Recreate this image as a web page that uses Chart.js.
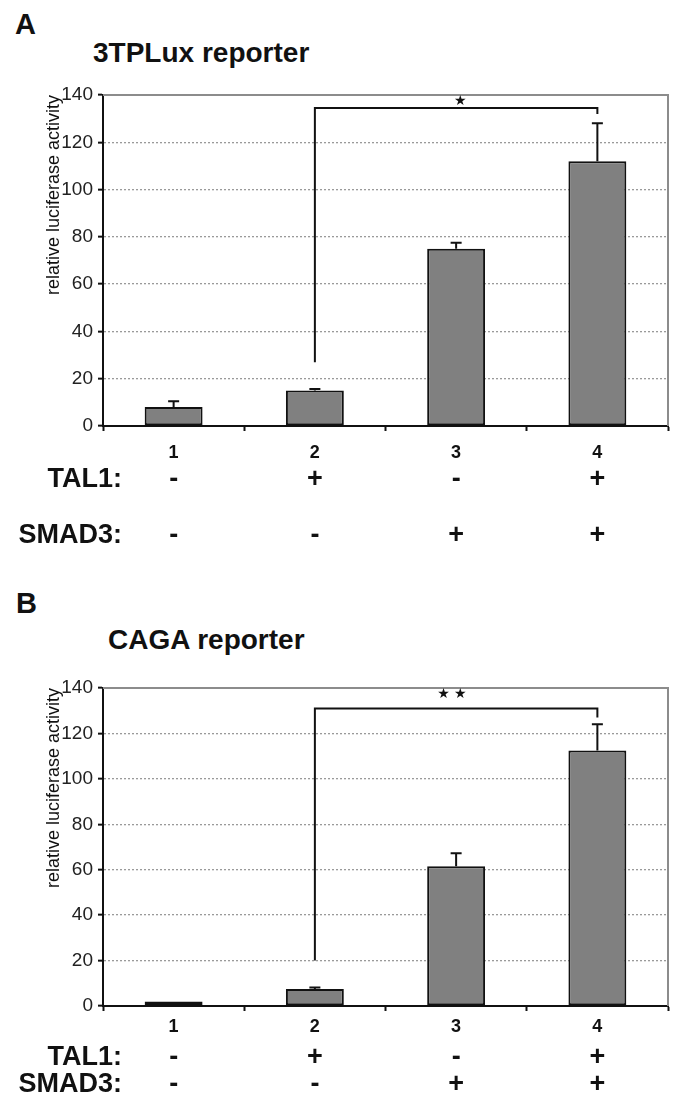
<!DOCTYPE html>
<html>
<head>
<meta charset="utf-8">
<script src="https://cdn.jsdelivr.net/npm/chart.js@4.4.0/dist/chart.umd.min.js"></script>
<style>
  html, body { margin: 0; padding: 0; background: #fff; }
  body { width: 676px; height: 1098px; position: relative; overflow: hidden; font-family: "Liberation Sans", Arial, sans-serif; }
  .lbl { position: absolute; font-weight: bold; line-height: 1; color: #111; white-space: nowrap; }
  canvas { position: absolute; left: 0; }
</style>
</head>
<body>
<div class="lbl" style="left:15px;top:10px;font-size:29px">A</div>
<div class="lbl" style="left:93px;top:39px;font-size:28px">3TPLux reporter</div>
<canvas id="luxChart" width="676" height="500" style="top:70px"></canvas>
<div class="lbl" style="left:16px;top:589px;font-size:29px">B</div>
<div class="lbl" style="left:108px;top:626px;font-size:28px">CAGA reporter</div>
<canvas id="cagaChart" width="676" height="438" style="top:660px"></canvas>
<script>
// Shared categories / conditions
const groups = ['1', '2', '3', '4'];
const tal1 = ['-', '+', '-', '+'];
const smad3 = ['-', '-', '+', '+'];

// 3TPLux reporter (mean, upper error)
const luxMean = [8, 15, 75, 112];
const luxErr = [2.5, 0.6, 2.5, 16];

// CAGA reporter (mean, upper error)
const cagaMean = [2, 7.5, 61.5, 112.5];
const cagaErr = [0, 0.6, 5.8, 11.5];

const yMax = 140;
const yStep = 20;

// significance bracket: [from bar, to bar, left foot, top, right foot]
const luxBracket = [1, 3, 27, 134.5, 132];
const cagaBracket = [1, 3, 20, 131, 127];
// star positions (category units) and height
const luxStars = [2.03];
const cagaStars = [1.91, 2.03];
const starLevel = 137.3;

const extras = {
  id: 'extras',
  afterDraw(chart, args, o) {
    const ctx = chart.ctx, x = chart.scales.x, y = chart.scales.y;
    const area = chart.chartArea;
    ctx.save();
    // gray frame at top and right
    ctx.strokeStyle = '#8c8c8c';
    ctx.lineWidth = 2;
    ctx.beginPath();
    ctx.moveTo(area.left, area.top);
    ctx.lineTo(area.right, area.top);
    ctx.lineTo(area.right, area.bottom);
    ctx.stroke();

    // error bars (upper only)
    ctx.strokeStyle = '#111';
    ctx.lineWidth = 2;
    o.mean.forEach((m, i) => {
      if (!o.err[i]) return;
      const px = x.getPixelForValue(i);
      const y0 = y.getPixelForValue(m), y1 = y.getPixelForValue(m + o.err[i]);
      ctx.beginPath();
      ctx.moveTo(px, y0); ctx.lineTo(px, y1);
      ctx.moveTo(px - 5.5, y1); ctx.lineTo(px + 5.5, y1);
      ctx.stroke();
    });

    // bracket
    const b = o.bracket;
    const bx0 = x.getPixelForValue(b[0]), bx1 = x.getPixelForValue(b[1]);
    ctx.beginPath();
    ctx.moveTo(bx0, y.getPixelForValue(b[2]));
    ctx.lineTo(bx0, y.getPixelForValue(b[3]));
    ctx.lineTo(bx1, y.getPixelForValue(b[3]));
    ctx.lineTo(bx1, y.getPixelForValue(b[4]));
    ctx.stroke();

    // stars
    ctx.fillStyle = '#111';
    ctx.font = '14px "DejaVu Sans"';
    ctx.textAlign = 'center';
    ctx.textBaseline = 'middle';
    o.stars.forEach(s => ctx.fillText('\u2605', x.getPixelForValue(s), y.getPixelForValue(starLevel)));

    // TAL1 / SMAD3 rows
    ctx.font = 'bold 27px "Liberation Sans", Arial';
    [['TAL1:', tal1], ['SMAD3:', smad3]].forEach((row, r) => {
      const ry = o.rowY[r];
      ctx.textAlign = 'right';
      ctx.fillText(row[0], 122, ry);
      ctx.textAlign = 'center';
      row[1].forEach((s, i) => ctx.fillText(s, x.getPixelForValue(i), ry));
    });
    ctx.restore();
  }
};

function makeChart(id, mean, err, bracket, stars, lay) {
  return new Chart(document.getElementById(id), {
    type: 'bar',
    data: {
      labels: groups,
      datasets: [{
        data: mean,
        backgroundColor: '#808080',
        borderColor: '#111',
        borderWidth: 2,
        borderSkipped: false,
        barPercentage: 0.41,
        categoryPercentage: 1
      }]
    },
    options: {
      responsive: false,
      animation: false,
      devicePixelRatio: 1,
      layout: { padding: { left: 0, right: 8, top: lay.padTop, bottom: 0 } },
      plugins: {
        legend: { display: false },
        tooltip: { enabled: false },
        extras: { mean: mean, err: err, bracket: bracket, stars: stars, rowY: lay.rowY }
      },
      scales: {
        x: {
          grid: { offset: true, drawOnChartArea: false, tickLength: 5, tickColor: '#111', tickWidth: 2 },
          border: { color: '#111', width: 2 },
          ticks: { color: '#111', font: { family: '"Liberation Sans", Arial', size: 18, weight: 'bold' }, padding: lay.tickPad },
          afterFit: s => { s.height = lay.xHeight; }
        },
        y: {
          min: 0,
          max: yMax,
          ticks: { stepSize: yStep, color: '#222', font: { family: '"Liberation Sans", Arial', size: 19 }, padding: 5 },
          grid: {
            color: c => (c.tick.value === 0 || c.tick.value === yMax) ? 'rgba(0,0,0,0)' : '#9a9a9a',
            lineWidth: 1.3,
            tickColor: '#111',
            tickWidth: 2,
            tickLength: 5,
            tickBorderDash: []
          },
          border: { color: '#111', width: 2, dash: [2, 2] },
          title: {
            display: true,
            text: 'relative luciferase activity',
            align: 'end',
            color: '#111',
            font: { family: '"Liberation Sans", Arial', size: 18 },
            padding: { top: 43, bottom: 0 }
          },
          afterFit: s => { s.width = 103; }
        }
      }
    },
    plugins: [extras]
  });
}

makeChart('luxChart', luxMean, luxErr, luxBracket, luxStars,
  { padTop: 25, xHeight: 144, tickPad: 11, rowY: [410, 466] });
makeChart('cagaChart', cagaMean, cagaErr, cagaBracket, cagaStars,
  { padTop: 28, xHeight: 92, tickPad: 5, rowY: [398, 425] });
</script>
</body>
</html>
